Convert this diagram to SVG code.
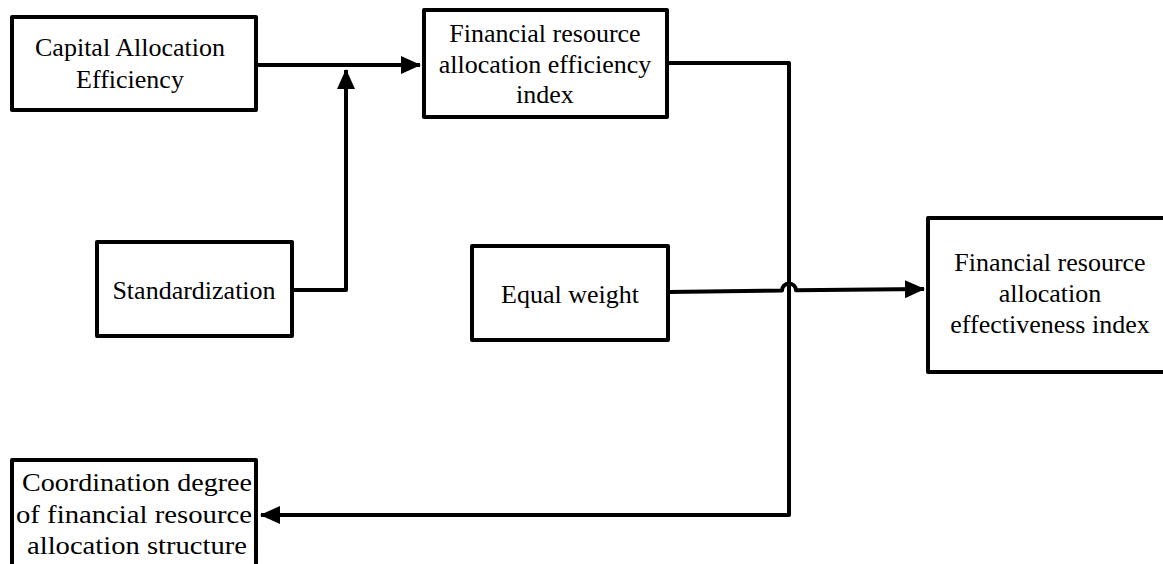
<svg xmlns="http://www.w3.org/2000/svg" width="1163" height="564" viewBox="0 0 1163 564">
<style>
.box{fill:#fff;stroke:#000;stroke-width:4;stroke-linejoin:round}
.lbl{font-family:'Liberation Serif','Times New Roman','DejaVu Serif',serif;font-size:26px;fill:#000;text-anchor:middle}
.edge{fill:none;stroke:#000;stroke-width:4;stroke-linejoin:round}
</style>
<defs>
<marker id="ah" markerUnits="userSpaceOnUse" markerWidth="20" markerHeight="18" refX="19" refY="9" orient="auto">
<path d="M0,0 L20,9 L0,18 z" fill="#000"/>
</marker>
</defs>
<rect width="1163" height="564" fill="#fff"/>
<g id="connectors">
<path class="edge" d="M256,65 L420,65" marker-end="url(#ah)"/>
<path class="edge" d="M292,290 L346,290 L346,70" marker-end="url(#ah)"/>
<path class="edge" d="M667,63 L789,63 L789,515 L261,515" marker-end="url(#ah)"/>
<path class="edge" d="M668,292 L782,290.5 A7,7 0 0 1 796,290.3 L924,289" marker-end="url(#ah)"/>
</g>
<g id="n1">
<rect class="box" x="12" y="17" width="244" height="93"/>
<text class="lbl" x="130" y="56">Capital Allocation</text>
<text class="lbl" x="130" y="88">Efficiency</text>
</g>
<g id="n2">
<rect class="box" x="424" y="10" width="243" height="107"/>
<text class="lbl" x="545" y="42">Financial resource</text>
<text class="lbl" x="545" y="73">allocation efficiency</text>
<text class="lbl" x="545" y="103">index</text>
</g>
<g id="n3">
<rect class="box" x="97" y="242" width="195" height="94"/>
<text class="lbl" x="194" y="299">Standardization</text>
</g>
<g id="n4">
<rect class="box" x="472" y="246" width="196" height="94"/>
<text class="lbl" x="570" y="303">Equal weight</text>
</g>
<g id="n5">
<rect class="box" x="928" y="218" width="250" height="154"/>
<text class="lbl" x="1050" y="271">Financial resource</text>
<text class="lbl" x="1050" y="302">allocation</text>
<text class="lbl" x="1050" y="333">effectiveness index</text>
</g>
<g id="n6">
<rect class="box" x="12" y="460" width="244" height="120"/>
<text class="lbl" x="137" y="491" textLength="230" lengthAdjust="spacingAndGlyphs">Coordination degree</text>
<text class="lbl" x="134" y="523" textLength="236" lengthAdjust="spacingAndGlyphs">of financial resource</text>
<text class="lbl" x="137" y="554" textLength="220" lengthAdjust="spacingAndGlyphs">allocation structure</text>
</g>
</svg>
